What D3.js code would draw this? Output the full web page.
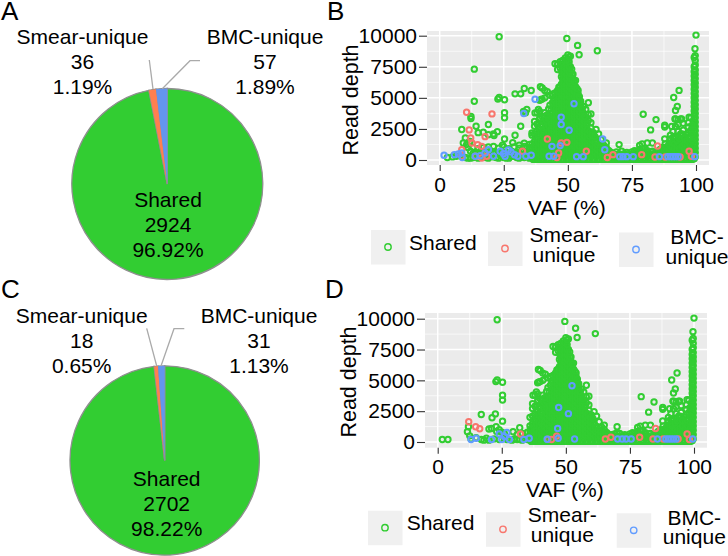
<!DOCTYPE html>
<html><head><meta charset="utf-8">
<script src="https://cdn.jsdelivr.net/npm/d3@7/dist/d3.min.js"></script>
<style>html,body{margin:0;padding:0;background:#fff;overflow:hidden}text{font-family:"Liberation Sans",Arial,sans-serif;fill:#000}</style>
</head><body>
<script>
// ---------- data ----------
const categories = ["Shared","Smear-unique","BMC-unique"];
const pieCountsA = [2924,36,57];
const piePctA = ["96.92%","1.19%","1.89%"];
const pieCountsC = [2702,18,31];
const piePctC = ["98.22%","0.65%","1.13%"];
const xTicks = [0,25,50,75,100];
const yTicks = [0,2500,5000,7500,10000];

// shared variants, [vaf,[depths]] columns (present in both scatter panels)
const sharedColumns = [
[36,[150,500,900,1300,2000]],[37,[200,650,1100,1500,2100,2710,3100]],[38,[100,450,800,1200,1650,2300,2900,3800]],
[39,[200,600,1000,1400,1900,2500,3300,3900,4800]],[40,[100,500,900,1300,1700,2100,2700,3500,4900,5800]],
[41,[250,650,1050,1450,1850,2350,2950,3450,3800,5000]],[42,[100,500,900,1300,1700,2100,2500,3000,3600,5500]],
[43,[300,700,1100,1500,1900,2300,2700,3200,4400,5200]],[44,[100,500,900,1300,1700,2100,2500,2900,3300,3800,4600,5300]],
[45,[300,700,1100,1500,1900,2300,2700,3100,3500,3900,4300,4800,5400,7750]],
[46,[100,500,900,1300,1700,2100,2500,2900,3300,3700,4100,4500,4900,5300,5600,7280,7700]],
[47,[300,700,1100,1500,1900,2300,2700,3100,3500,3900,4300,4700,5100,5500,5900,7400,7900]],
[48,[100,500,900,1300,1700,2100,2500,2900,3300,3700,4100,4500,4900,5300,5700,6100,6500,6900,7300,7700,8000]],
[49,[300,700,1100,1500,1900,2300,2700,3100,3500,3900,4300,4700,5100,5500,5900,6300,6700,7100,7500,7900,8200]],
[50,[100,500,900,1300,1700,2100,2500,2900,3300,3700,4100,4500,4900,5300,5700,6100,6500,6900,7300,7700,8100,8450]],
[51,[300,700,1100,1500,1900,2300,2700,3100,3500,3900,4300,4700,5100,5500,5900,6300,6700,7100,7500,8350]],
[52,[100,500,900,1300,1700,2100,2500,2900,3300,3700,4100,4500,4900,5300,5700,6100,6500,6900]],
[53,[300,700,1100,1500,1900,2300,2700,3100,3500,3900,4300,4700,5100,5500,5900,6400]],
[54,[100,500,900,1300,1700,2100,2500,2900,3300,3700,4100,4500,4900,5300,5600]],
[55,[300,700,1100,1500,1900,2300,2700,3100,3500,3900,4300,4730]],
[56,[100,500,900,1300,1700,2100,2500,2900,3300,3800,4300]],
[57,[300,700,1100,1500,1900,2300,2600,3400,4060]],[58,[100,500,900,1300,1600,2000,3170,3650,4600]],
[59,[300,700,1100,1400,1800,2580,3000,3710]],[60,[100,500,900,1200,1700,2200]],[61,[300,700,1000,1500,2450]],
[62,[100,500,800,1250,2100]],[63,[300,650,1000,1640]],[64,[100,450,800,1200]],[65,[250,600,1000,1370]],[66,[100,400,750]],[67,[250,600]],
[68,[100,450]],[69,[250,650]],[70,[150,500,1240]],[71,[300,700]],[72,[150,500]],[73,[300,600]],[74,[150,450]],[75,[300,650]],[76,[150,500,750]],
[77,[300,650]],[78,[150,500,850,1180]],[79,[300,650,1290]],[80,[150,500,950]],[81,[300,750,1370]],[82,[150,500]],[83,[300,700,1370]],
[84,[150,450]],[85,[300,650]],[86,[150,500,850]],[87,[300,700,1000]],[88,[150,500,900,1300]],[89,[300,700,1100]],[90,[150,500,900,1250,1700,2000]],
[91,[300,700,1100,1500,1800,2300]],[92,[150,500,900,1300,1750,2700,3300]],[93,[300,700,1100,1500,1900,2300,2850,3250]],
[94,[150,500,900,1300,1700,2100,3300]],[95,[300,700,1100,1500,2000,2400,2950]],[96,[150,500,900,1300,1800,2050]],
[97,[300,700,1100,1500,2200,2650,3000]],[98,[150,500,900,1300,1800,2400,3400]],
[99.3,[100,450,800,1150,1500,1850,2200,2550,2900,3250,3600,3950,4300,4650,5000,5350,5700,6050,6400,6750,7100,7500,8250]],
[99.7,[250,600,950,1300,1650,2000,2350,2700,3050,3400,3750,4100,4450,4800,5150,5500,5850,6200,6550,6900,7250,7650,8000,8400]],
// in-between columns of the solid mass
[36.5,[50,350,700,1100]],[37.5,[50,400,850,1300,1800]],[38.5,[50,350,650,1000,1450,2000,2600]],
[39.5,[50,400,800,1200,1650,2200,2850]],[40.5,[50,350,700,1100,1500,1950,2400,3100]],[41.5,[50,450,850,1250,1650,2100,2650,3200]],
[42.5,[50,300,700,1100,1500,1900,2300,2750,3300,4100]],[43.5,[50,500,900,1300,1700,2100,2500,2950,3500,4100]],
[44.5,[50,300,700,1100,1500,1900,2300,2700,3100,3550,4200,4900]],[45.5,[50,500,900,1300,1700,2100,2500,2900,3300,3700,4100,4550,5100]],
[46.5,[50,300,700,1100,1500,1900,2300,2700,3100,3500,3900,4300,4700,5100,5500,5850]],
[47.5,[50,500,900,1300,1700,2100,2500,2900,3300,3700,4100,4500,4900,5300,5700,6100,6700,7150,7600]],
[48.5,[50,300,700,1100,1500,1900,2300,2700,3100,3500,3900,4300,4700,5100,5500,5900,6300,6700,7100,7500]],
[49.5,[50,500,900,1300,1700,2100,2500,2900,3300,3700,4100,4500,4900,5300,5700,6100,6500,6900,7300,7700,8050]],
[50.5,[50,300,700,1100,1500,1900,2300,2700,3100,3500,3900,4300,4700,5100,5500,5900,6300,6700,7100,7500,7900,8300]],
[51.5,[50,500,900,1300,1700,2100,2500,2900,3300,3700,4100,4500,4900,5300,5700,6100,6500,6900,7300]],
[52.5,[50,300,700,1100,1500,1900,2300,2700,3100,3500,3900,4300,4700,5100,5500,5900,6300]],
[53.5,[50,500,900,1300,1700,2100,2500,2900,3300,3700,4100,4500,4900,5300,5750]],
[54.5,[50,300,700,1100,1500,1900,2300,2700,3100,3500,3900,4300,4700,5100]],
[55.5,[50,500,900,1300,1700,2100,2500,2900,3300,3700,4100]],[56.5,[50,300,700,1100,1500,1900,2300,2700,3100,3500]],
[57.5,[50,500,900,1300,1700,2100,2450,2900]],[58.5,[50,300,700,1100,1500,1900,2300]],[59.5,[50,500,850,1250,1600,2000]],
[60.5,[50,300,650,1050,1450,1900]],[61.5,[50,450,850,1200]],[62.5,[50,300,650,1000]],[63.5,[50,450,800]],[64.5,[50,300,650]],
[65.5,[50,350,800]],[66.5,[50,350]],[67.5,[50,450]],[68.5,[50,300]],[69.5,[50,400]],[70.5,[50,350]],[71.5,[50,450]],[72.5,[50,350]],[73.5,[50,400]],
[74.5,[50,300]],[75.5,[50,450]],[76.5,[50,350]],[77.5,[50,450]],[78.5,[50,350,700]],[79.5,[50,450,850]],[80.5,[50,350,700]],[81.5,[50,450]],
[82.5,[50,350,650]],[83.5,[50,450]],[84.5,[50,300,600]],[85.5,[50,450]],[86.5,[50,350,700]],[87.5,[50,450,850]],[88.5,[50,350,700,1050]],
[89.5,[50,450,850,1250]],[90.5,[50,350,700,1050,1400]],[91.5,[50,450,900,1300]],[92.5,[50,350,700,1100,1550]],[93.5,[50,450,900,1700]],
[94.5,[50,350,700,1100,2100]],[95.5,[50,450,900,1300,1750]],[96.5,[50,350,700,1100,1550]],[97.5,[50,450,900,1300,1700]],[98.5,[50,350,700,1100,1600,2100,2800]]
];
// isolated shared points present in both scatter panels
const sharedOutliers = [
[23.2,9920],[49.6,9780],[53.8,9220],[54.4,8470],[61.5,8790],[100,10050],[99.6,8950],[93.4,5600],[91.3,5030],[92.7,4300],[92,3980],
[79.4,3680],[84.4,3250],[87.8,2800],[87.8,2650],[82.3,2420],[87.8,1700],[90.5,2700],[94.4,3300],[91.8,3300],[97.3,3440],[22.7,4900],[23.2,5030],
[25.3,4850],[25.3,3800],[25.3,3400],[17,2230],[22.5,2280],[21.2,1970],[25.3,1690],[39.3,5890],[41,5590],[43.8,5270],[38.5,4060],[37.2,3790],[39.2,3390],[41.8,3600],[39.5,4870]
];
// shared points that only panel B shows
const sharedOnlyB = [
[13.5,7310],[13.5,4730],[29.4,5320],[31.6,5320],[33,5750],[35.7,5590],[12.2,3500],[12.2,3330],[8.6,2450],[14.2,2710],[19,2850],[19,2040],
[31.6,2710],[29.4,1990],[36,2180],[34,4060],[32.7,3900],[33.5,3800],[10,1770],[9.2,1370],[10.5,1240],[11,1000],[11.8,1500],[15,2200],[21,2100],[28.5,1400],[24.5,1200],
[3,200],[5,250],[6.5,300],[8,350],[10,200],[12,150],[14,300],[16,450],[18,200],[20,300],[22,200],[24,300],[26,150],[28,300],[30,200],[32,250],[34,300],
[11,150],[13,200],[15,150],[17,300],[19,150],[21,250],[23,150],[25,200],[27,150],[29,300],[31,150],[33,200],[35,150],
[12,700],[13,1000],[14,600],[15,900],[16,700],[17,1000],[18,600],[19,1050],[20,700],[21,1100],[22,600],[23,950],[24,700],[25,1050],[26,600],[27,900],[28,700],[29,1050],[30,600],[31,950],[32,700],[33,1100],[34,650],[35,1000],
[13,500],[15,500],[17,600],[19,500],[21,550],[23,500],[25,550],[27,500],[29,550],[31,500],[33,500],[35,500],
[31,1200],[33,1350],[35,1250],[34,1000]
];
// shared points that only panel D shows
const sharedOnlyD = [
[1.8,200],[4,200],[11.6,830],[12,1240],[20,1050],[21,1100],[22.8,1240],[29.4,830],[32,1160],[13,250],[15,350],[17,200],[19,300],[20,150],[22,250],[24,200],[26,300],[28,200],[30,250],[32,200],[34,300],
[18,150],[27,200],[29,150],[31,200],[33,150],[35,200],[23,850],[24,1000],[25,800],[12.5,500],[26,700],[31,600],[33,700],[35,800],[35,400],[66,450],[68,600],[70,750],[72,300]
];
const smearB = [[10.5,3840],[20.4,3710],[11.5,2420],[17.7,1880],[12.1,1770],[12.6,1370],[14.8,1240],[16.4,1100],[8.6,830],[8.6,300],[14,300],[16.4,160],[18.4,300],[42,1690],[32.3,700],[47.4,1370],[49.6,1420],[46.4,560],[45.7,200],[57.2,700],[65.4,200],[67.6,430],[78.8,430],[85,1130],[84,240],[88,240],[93.8,240],[97.3,700],[98.2,300]];
const smearD = [[12.1,1640],[14.8,1240],[16.4,1080],[32.3,650],[46.4,480],[44.4,200],[43,220],[65.4,240],[67.6,380],[78.8,380],[85,1100],[84,240],[88,240],[93.8,240],[97.3,650],[98.2,200]];
const bmcB = [[37.2,4890],[32.8,3740],[47.4,3440],[47.4,2850],[50.5,2390],[52.4,4530],[63.6,1690],[64.4,830],[53.4,270],[56,270],[70.2,270],[71.5,270],[73,270],[75.5,270],[85.7,270],[89,270],[90,270],[91,270],[92,270],[93,270],[99.5,270],
[1.7,380],[5.7,430],[7.3,480],[8.6,560],[8.8,200],[13.8,300],[15.8,350],[19,830],[17.7,560],[21,300],[23.6,700],[24.9,500],[26.8,800],[27.8,650],[29.2,420],[25.5,300],[30.5,300],[33.6,300],[35.7,380],[42.7,300],[43.8,1100],[47,1160],[44.5,300]];
const bmcD = [[47.2,2800],[51,2300],[52.4,4560],[46.8,1090],[47,300],[13,200],[15,300],[21,200],[24,650],[25,200],[27,770],[28,200],[26,450],[33.6,200],[35.7,300],[42.7,220],[53.4,240],[70.2,240],[72,240],[73.5,240],[75.5,240],[85.7,240],[89,240],[90,240],[91,240],[92,240],[93,240],[99.5,240]];

// ---------- layout ----------
const colors = {green:"#32CD32",smear:"#F8766D",bmc:"#619CFF",pie:["#32CD32","#FF7F50","#6495ED"]};
const svg = d3.select("body").append("svg").attr("width",728).attr("height",556).style("display","block");
const expand = cols => cols.flatMap(([v,ds]) => ds.map(d => [v,d]));

function label(x,y,t,size,anchor){
  return svg.append("text").attr("x",x).attr("y",y).attr("font-size",size).attr("text-anchor",anchor||"middle").text(t);
}
function stack(x,ys,lines,size){ lines.forEach((t,i)=>label(x,ys[i],t,size)); }

function pie(cfg){
  const g = svg.append("g").attr("transform",`translate(${cfg.cx},${cfg.cy})`);
  const arcs = d3.pie().sort(null)(cfg.counts);
  const arc = d3.arc().innerRadius(0).outerRadius(cfg.r);
  g.selectAll("path").data(arcs).join("path").attr("d",arc)
    .attr("fill",(d,i)=>colors.pie[i]).attr("stroke","#8f8f8f").attr("stroke-width",1.3);
  g.selectAll("path.f").data(arcs.slice(1)).join("path").attr("class","f").attr("d",arc)
    .attr("fill",(d,i)=>colors.pie[i+1]);
  const line = d3.line();
  cfg.leaders.forEach(l=>svg.append("path").attr("d",line(l)).attr("fill","none").attr("stroke","#aaa").attr("stroke-width",1.3));
  stack(cfg.smearX,cfg.topYs,[categories[1],cfg.counts[1],cfg.pct[1]],21);
  stack(cfg.bmcX,cfg.topYs,[categories[2],cfg.counts[2],cfg.pct[2]],21);
  stack(cfg.sharedX,cfg.sharedYs,[categories[0],cfg.counts[0],cfg.pct[0]],21);
}

function scatter(c){
  const x = d3.scaleLinear().domain([0,100]).range([c.x0,c.x100]);
  const y = d3.scaleLinear().domain([0,10000]).range([c.y0,c.y10k]);
  const g = svg.append("g");
  g.append("rect").attr("x",c.left).attr("y",c.top).attr("width",c.right-c.left).attr("height",c.bottom-c.top).attr("fill","#EBEBEB");
  const mid = a => a.slice(1).map((v,i)=>(v+a[i])/2);
  g.selectAll("line.mx").data(mid(xTicks)).join("line").attr("class","mx").attr("x1",d=>x(d)).attr("x2",d=>x(d)).attr("y1",c.top).attr("y2",c.bottom).attr("stroke","#fff").attr("stroke-width",.7);
  g.selectAll("line.my").data(mid(yTicks)).join("line").attr("class","my").attr("y1",d=>y(d)).attr("y2",d=>y(d)).attr("x1",c.left).attr("x2",c.right).attr("stroke","#fff").attr("stroke-width",.7);
  g.selectAll("line.gx").data(xTicks).join("line").attr("class","gx").attr("x1",d=>x(d)).attr("x2",d=>x(d)).attr("y1",c.top).attr("y2",c.bottom).attr("stroke","#fff").attr("stroke-width",1.5);
  g.selectAll("line.gy").data(yTicks).join("line").attr("class","gy").attr("y1",d=>y(d)).attr("y2",d=>y(d)).attr("x1",c.left).attr("x2",c.right).attr("stroke","#fff").attr("stroke-width",1.5);
  const series = [[c.shared,colors.green],[c.smear,colors.smear],[c.bmc,colors.bmc]];
  series.forEach(([pts,col])=>{
    g.append("g").selectAll("circle").data(pts).join("circle")
      .attr("cx",d=>x(d[0])).attr("cy",d=>y(d[1])).attr("r",2.7)
      .attr("fill","none").attr("stroke",col).attr("stroke-width",2);
  });
  const ax = g.append("g").attr("transform",`translate(0,${c.bottom})`)
    .call(d3.axisBottom(x).tickValues(xTicks).tickSize(6).tickPadding(4).tickFormat(d3.format("d")));
  const ay = g.append("g").attr("transform",`translate(${c.left},0)`)
    .call(d3.axisLeft(y).tickValues(yTicks).tickSize(8).tickPadding(2).tickFormat(d3.format("d")));
  [ax,ay].forEach(a=>{a.select(".domain").remove();a.selectAll("line").attr("stroke","#333").attr("stroke-width",1.1);
    a.selectAll("text").attr("font-size",21).attr("fill","#000").style("font-family",'"Liberation Sans",Arial,sans-serif');});
  ax.selectAll("text").attr("dy",null).attr("y",c.tickBase-c.bottom);
  label((c.x0+c.x100)/2-1,c.xTitleY,"VAF (%)",21);
  svg.append("text").attr("transform",`translate(${c.yTitleX},${c.yTitleY}) rotate(-90)`).attr("text-anchor","middle").attr("font-size",21.5).text("Read depth");
  // legend
  const keys = c.legend;
  keys.forEach((k,i)=>{
    svg.append("rect").attr("x",k.x).attr("y",k.y).attr("width",34.5).attr("height",34.5).attr("fill","#F0F0F0");
    svg.append("circle").attr("cx",k.x+17).attr("cy",k.y+17).attr("r",3.2).attr("fill","none").attr("stroke",series[i][1]).attr("stroke-width",1.4);
  });
  label(c.legend[0].tx,c.legend[0].ty[0],categories[0],21,"start");
  const parts = t => { const p=t.split("-"); return [p[0]+"-",p[1]]; };
  [1,2].forEach(i=>stack(keys[i].tx,keys[i].ty,parts(categories[i]),21));
}

// ---------- draw ----------
label(1,20,"A",26,"start"); label(327,20,"B",26,"start"); label(1,298,"C",26,"start"); label(325,298,"D",26,"start");

pie({cx:167.3,cy:184,r:95.5,counts:pieCountsA,pct:piePctA,smearX:82.5,bmcX:265,sharedX:168,topYs:[44,69,94],sharedYs:[207,232,257],
  leaders:[[[149.3,60],[153,89]],[[200,60.7],[190,60.7],[162.3,88.7]]]});
pie({cx:164.7,cy:460.5,r:94.7,counts:pieCountsC,pct:piePctC,smearX:81.7,bmcX:259,sharedX:166.7,topYs:[322.5,347.5,372.5],sharedYs:[486,511,536],
  leaders:[[[146.7,328.3],[156.7,366]],[[184.3,328.7],[174,328.7],[161,366]]]});

const common = expand(sharedColumns).concat(sharedOutliers);
scatter({left:427,right:709,top:31,bottom:165,x0:439.7,x100:696,y0:160,y10k:35.7,tickBase:192,xTitleY:215,yTitleX:358,yTitleY:100,
  shared:common.concat(sharedOnlyB),smear:smearB,bmc:bmcB,
  legend:[{x:371,y:230,tx:409,ty:[250]},{x:488,y:231.5,tx:564,ty:[241.7,261.7]},{x:619,y:232.5,tx:697,ty:[244,264]}]});
scatter({left:425,right:707,top:313,bottom:447.7,x0:437.7,x100:694,y0:442,y10k:318.7,tickBase:474.5,xTitleY:497,yTitleX:355.5,yTitleY:382,
  shared:common.concat(sharedOnlyD),smear:smearD,bmc:bmcD,
  legend:[{x:368,y:510.7,tx:406.7,ty:[530]},{x:486,y:512.3,tx:562.3,ty:[522.3,542.3]},{x:616.7,y:513.3,tx:694.3,ty:[525,544]}]});
</script>
</body></html>
